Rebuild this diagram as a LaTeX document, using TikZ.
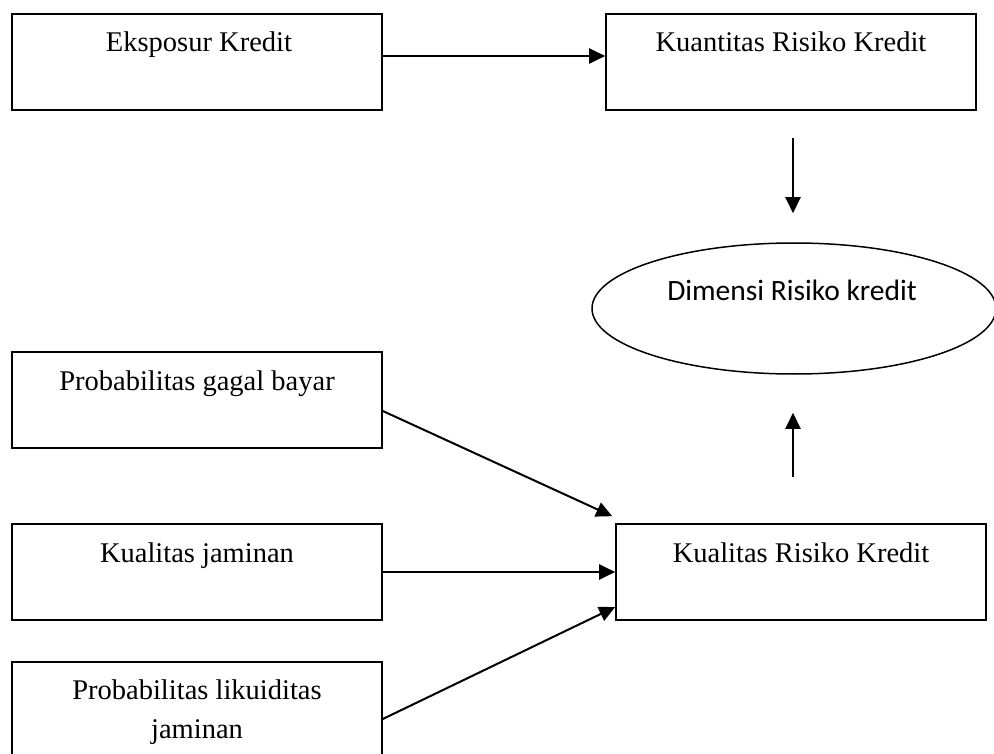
\documentclass[tikz,border=0pt]{standalone}
\usepackage{fontspec}
\setmainfont{Liberation Serif}
\newfontfamily\calib{Carlito}
\usetikzlibrary{shapes.geometric,arrows.meta}
\tikzset{
  box/.style={draw=black, line width=1.6pt, rectangle, minimum width=370pt, minimum height=96pt, inner sep=0pt},
  oval/.style={draw=black, line width=1.5pt, ellipse, minimum width=404pt, minimum height=131pt, inner sep=0pt},
  lbl/.style={anchor=base, inner sep=0pt, font=\fontsize{28.5}{39}\selectfont},
  olbl/.style={anchor=base, inner sep=0pt, font=\calib\fontsize{29.5}{35}\selectfont},
  arr/.style={line width=2pt, -{Triangle[length=16pt,width=15pt]}}
}
\begin{document}
\begin{tikzpicture}[x=1pt,y=-1pt]
\useasboundingbox (0,0) rectangle (994,754);
\fill[white] (0,0) rectangle (994,754);
% boxes
\node[box] (ek) at (197,62) {};
\node[box] (kuan) at (791,62) {};
\node[oval] (dim) at (794,308.5) {};
\node[box] (pg) at (197,400) {};
\node[box] (kj) at (197,572) {};
\node[box] (pl) at (197,710) {};
\node[box] (krk) at (801,572) {};
% labels
\node[lbl] (tek) at (199,52) {Eksposur Kredit};
\node[lbl] (tkuan) at (791,52) {Kuantitas Risiko Kredit};
\node[olbl] (tdim) at (792,301) {Dimensi Risiko kredit};
\node[lbl] (tpg) at (197,390) {Probabilitas gagal bayar};
\node[lbl] (tkj) at (197,562) {Kualitas jaminan};
\node[lbl] (tpl1) at (197,699) {Probabilitas likuiditas};
\node[lbl] (tpl2) at (197,738) {jaminan};
\node[lbl] (tkrk) at (801,562) {Kualitas Risiko Kredit};
% arrows
\draw[arr] ([yshift=6pt]ek.east) -- ([yshift=6pt]kuan.west);
\draw[arr] ([xshift=2pt,yshift=-27pt]kuan.south) -- ([xshift=-1pt,yshift=29pt]dim.north);
\draw[arr] ([xshift=-8pt,yshift=46pt]krk.north) -- ([xshift=-1pt,yshift=-38pt]dim.south);
\draw[arr] ([yshift=-11pt]pg.east) -- ([xshift=-3pt,yshift=7pt]krk.north west);
\draw[arr] (kj.east) -- (krk.west);
\draw[arr] ([yshift=-9pt]pl.east) -- ([yshift=-35pt]krk.west);
\end{tikzpicture}
\end{document}
